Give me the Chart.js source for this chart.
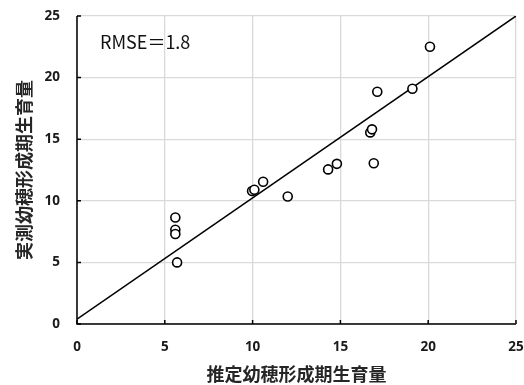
<!DOCTYPE html>
<html>
<head>
<meta charset="utf-8">
<script src="https://cdn.jsdelivr.net/npm/chart.js@4"></script>
<style>
  html, body { margin: 0; padding: 0; background: #fff; }
  #wrap { width: 524px; height: 385px; position: relative; }
</style>
</head>
<body>
<div id="wrap"><canvas id="c" width="524" height="385"></canvas></div>
<script>
// Estimated vs measured growth at panicle formation stage
const estimated = [5.6, 5.6, 5.6, 5.7, 9.97, 10.1, 10.6, 12.0, 14.3, 14.8, 16.7, 16.8, 16.9, 17.1, 19.1, 20.1];
const measured  = [8.65, 7.65, 7.3, 5.0, 10.8, 10.9, 11.55, 10.35, 12.55, 13.0, 15.55, 15.8, 13.05, 18.85, 19.1, 22.5];

// Fitted line end points
const fitX = [0, 25];
const fitY = [0.4, 25];

const tickValues = [0, 5, 10, 15, 20, 25];
const xTitle = '推定幼穂形成期生育量';
const yTitle = '実測幼穂形成期生育量';
const rmseText = 'RMSE＝1.8';

const points = estimated.map((x, i) => ({ x, y: measured[i] }));
const fitLine = fitX.map((x, i) => ({ x, y: fitY[i] }));

const tickFont = { family: '"Open Sans", "Liberation Sans", sans-serif', size: 13.5, weight: 'bold' };
const titleFont = { family: '"Noto Sans CJK JP", sans-serif', size: 18, weight: 'bold' };

// Black left/bottom axis lines with inward tick marks, plus RMSE note
const axisPlugin = {
  id: 'axisDecor',
  afterDatasetsDraw(chart) {
    const { ctx, chartArea: a, scales: { x, y } } = chart;
    ctx.save();
    ctx.strokeStyle = '#000';
    ctx.lineWidth = 1.5;
    ctx.beginPath();
    ctx.moveTo(a.left, a.top);
    ctx.lineTo(a.left, a.bottom);
    ctx.lineTo(a.right, a.bottom);
    ctx.stroke();
    ctx.beginPath();
    tickValues.forEach(v => {
      const px = x.getPixelForValue(v);
      ctx.moveTo(px, a.bottom);
      ctx.lineTo(px, a.bottom - 4);
      const py = y.getPixelForValue(v);
      ctx.moveTo(a.left, py);
      ctx.lineTo(a.left + 4, py);
    });
    ctx.stroke();
    ctx.fillStyle = '#111';
    ctx.font = '18px "Noto Sans CJK JP", sans-serif';
    ctx.textBaseline = 'middle';
    ctx.textAlign = 'left';
    ctx.fillText(rmseText, a.left + 23, a.top + 26);
    ctx.restore();
  }
};

new Chart(document.getElementById('c'), {
  type: 'scatter',
  data: {
    datasets: [
      {
        data: points,
        pointStyle: 'circle',
        pointRadius: 4.5,
        pointHoverRadius: 4.5,
        pointBackgroundColor: '#fff',
        pointBorderColor: '#000',
        pointBorderWidth: 1.6,
        order: 1
      },
      {
        type: 'line',
        data: fitLine,
        borderColor: '#000',
        borderWidth: 1.5,
        pointRadius: 0,
        fill: false,
        order: 2
      }
    ]
  },
  options: {
    responsive: false,
    animation: false,
    events: [],
    layout: { padding: { left: 0, right: 8, top: 16, bottom: 0 } },
    plugins: { legend: { display: false }, tooltip: { enabled: false } },
    scales: {
      x: {
        type: 'linear',
        min: 0, max: 25,
        afterBuildTicks: s => { s.ticks = tickValues.map(v => ({ value: v })); },
        afterFit: s => { s.height = 61; s.paddingLeft = 0; s.paddingRight = 0; },
        grid: { color: '#d9d9d9', lineWidth: 1.3, drawTicks: false },
        border: { display: false },
        ticks: { padding: 15, color: '#1a1a1a', font: tickFont, maxRotation: 0 },
        title: { display: true, text: xTitle, color: '#262626', font: titleFont, padding: { top: 0, bottom: 0 } }
      },
      y: {
        type: 'linear',
        min: 0, max: 25,
        afterBuildTicks: s => { s.ticks = tickValues.map(v => ({ value: v })); },
        afterFit: s => { s.width = 77; s.paddingTop = 0; s.paddingBottom = 0; },
        grid: { color: '#d9d9d9', lineWidth: 1.3, drawTicks: false },
        border: { display: false },
        ticks: { padding: 17, color: '#1a1a1a', font: tickFont },
        title: { display: true, text: yTitle, color: '#262626', font: titleFont, padding: { top: 13, bottom: 0 } }
      }
    }
  },
  plugins: [axisPlugin]
});
</script>
</body>
</html>
